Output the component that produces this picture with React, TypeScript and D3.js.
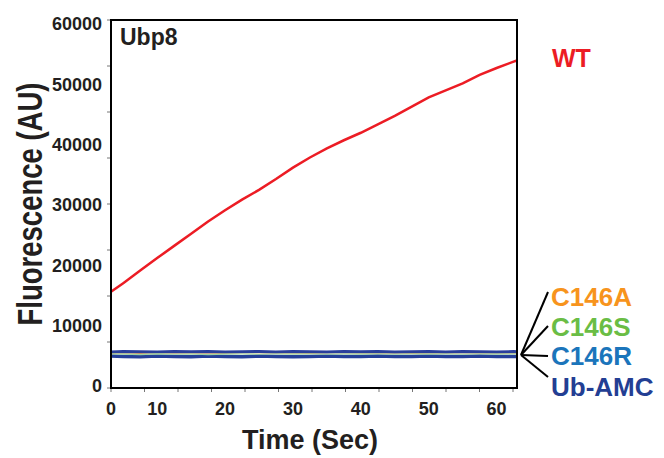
import React from 'react';
import * as d3 from 'd3';

// time points (sec) and readings (AU)
const times = [3.2, 5, 7.5, 10, 12.5, 15, 17.5, 20, 22.5, 25, 27.5, 30, 32.5, 35, 37.5, 40, 42.5, 45, 47.5, 50, 52.5, 55, 57.5, 60, 62.5, 63];
const wt = [15600, 17030, 19110, 21180, 23200, 25220, 27240, 29090, 30860, 32480, 34270, 36160, 37830, 39350, 40690, 41930, 43300, 44740, 46260, 47800, 48960, 50100, 51500, 52650, 53700, 53900];
const c146a = [5550, 5600, 5520, 5580, 5540, 5600, 5560, 5520, 5580, 5600, 5540, 5560, 5520, 5580, 5600, 5560, 5540, 5580, 5520, 5560, 5540, 5580, 5560, 5540, 5560, 5550];
const c146s = [5300, 5280, 5200, 5320, 5260, 5300, 5180, 5280, 5300, 5260, 5300, 5280, 5300, 5260, 5300, 5280, 5300, 5260, 5300, 5280, 5300, 5260, 5300, 5280, 5300, 5300];
const c146r = [5650, 5700, 5680, 5650, 5700, 5680, 5700, 5650, 5680, 5700, 5650, 5700, 5680, 5650, 5700, 5680, 5700, 5650, 5680, 5700, 5650, 5700, 5680, 5650, 5700, 5680];
const ubAmc = [4950, 4900, 4850, 4950, 4900, 4850, 4950, 4900, 4850, 4950, 4900, 4850, 4900, 4950, 4900, 4880, 4950, 4900, 4880, 4950, 4900, 4880, 4950, 4900, 4880, 4900];

const xLabels = [0, 10, 20, 30, 40, 50, 60];
const yLabels = [0, 10000, 20000, 30000, 40000, 50000, 60000];

const series = [
  { name: 'C146A', values: c146a, color: '#f7941d', width: 2 },
  { name: 'C146R', values: c146r, color: '#2a3f9c', width: 3 },
  { name: 'Ub-AMC', values: ubAmc, color: '#25409a', width: 3.5 },
  { name: 'C146S', values: c146s, color: '#9fd3a0', width: 1.2 },
];
const legendColors = ['#f7941d', '#6abd45', '#1b75bb', '#233e93'];
const legendNames = ['C146A', 'C146S', 'C146R', 'Ub-AMC'];

const W = 664;
const H = 458;
const box = { left: 111, right: 517, top: 20, bottom: 388 };
const font = '"Liberation Sans", Arial, sans-serif';

const App = () => {
  const xScale = d3.scaleLinear().domain([3.2, 63]).range([box.left, box.right]);
  const yScale = d3.scaleLinear().domain([-330, 60600]).range([box.bottom, box.top]);

  const line = d3
    .line<number>()
    .x((d, i) => xScale(times[i]))
    .y((d) => yScale(d));

  // tick marks are evenly spread on the frame, labels sit on their own values
  const xTickMarks = d3.range(13).map((i) => box.left + (i * (box.right - 4 - box.left)) / 12);
  const yTickMarks = d3.range(9).map((i) => box.top + (i * (box.bottom - box.top)) / 8);

  const xLabelPos = (v: number) => (v === 0 ? xScale(3.2) : xScale(v));

  const legendY = [297, 327, 356, 387];
  const legendEnds = [292, 326, 356, 377];

  return (
    <svg width={W} height={H} style={{ position: 'absolute', left: 0, top: 0 }} fontFamily={font}>
      <rect x={0} y={0} width={W} height={H} fill="#fff" />

      {/* y ticks */}
      {yTickMarks.map((y, i) => (
        <line key={'yt' + i} x1={box.left - 4} x2={box.left} y1={y} y2={y} stroke="#777" strokeWidth={1} />
      ))}
      {yLabels.map((v) => (
        <text key={'yl' + v} x={box.left - 9} y={yScale(v)} dy="0.36em" textAnchor="end" fontSize={18} fontWeight="bold" fill="#231f20">
          {v}
        </text>
      ))}

      {/* x ticks */}
      {xTickMarks.map((x, i) => (
        <line key={'xt' + i} x1={x} x2={x} y1={box.bottom} y2={box.bottom + 4} stroke="#777" strokeWidth={1} />
      ))}
      {xLabels.map((v) => (
        <text key={'xl' + v} x={xLabelPos(v)} y={415} textAnchor="middle" fontSize={18} fontWeight="bold" fill="#231f20">
          {v}
        </text>
      ))}

      {/* flat controls */}
      {series.map((s) => (
        <path key={s.name} d={line(s.values) || ''} fill="none" stroke={s.color} strokeWidth={s.width} />
      ))}

      {/* WT */}
      <path d={line(wt) || ''} fill="none" stroke="#ec1c24" strokeWidth={2.5} />

      {/* frame */}
      <rect x={box.left} y={box.top} width={box.right - box.left} height={box.bottom - box.top} fill="none" stroke="#000" strokeWidth={2} />

      <text x={120} y={45} fontSize={23} fontWeight="bold" fill="#231f20">Ubp8</text>

      <text x={310} y={449} textAnchor="middle" fontSize={27} fontWeight="bold" fill="#231f20">Time (Sec)</text>
      <text transform="translate(42,204) rotate(-90) scale(1,1.28)" textAnchor="middle" fontSize={27.5} fontWeight="bold" fill="#231f20">
        Fluorescence (AU)
      </text>

      <text x={552} y={67} fontSize={25} fontWeight="bold" fill="#ec1c24">WT</text>

      {/* legend for the overlapping controls */}
      {legendNames.map((n, i) => (
        <g key={n}>
          <line x1={521} y1={355} x2={548} y2={legendEnds[i]} stroke="#000" strokeWidth={2} />
          <text x={551} y={legendY[i] + 9} fontSize={26} fontWeight="bold" fill={legendColors[i]}>
            {n}
          </text>
        </g>
      ))}
    </svg>
  );
};

export default App;
